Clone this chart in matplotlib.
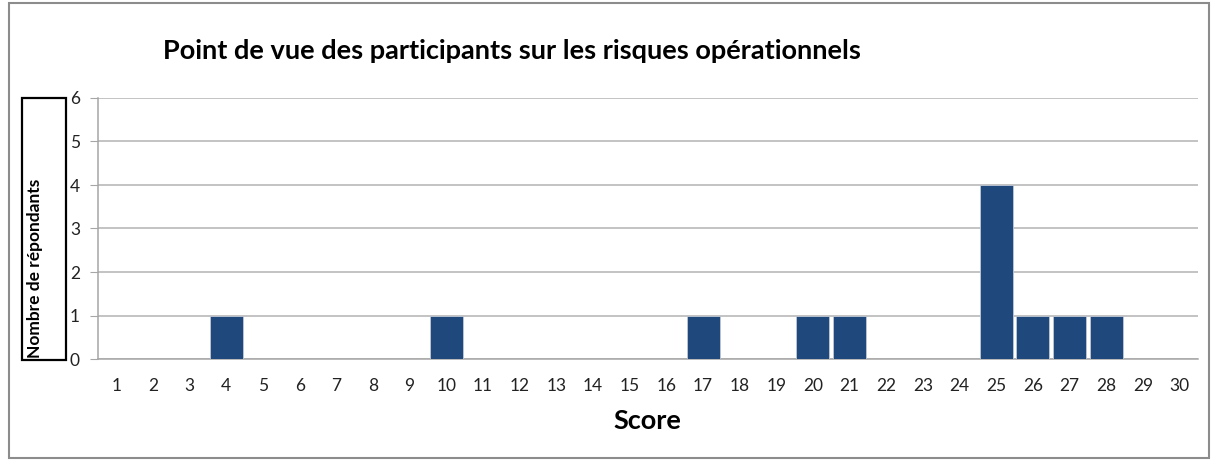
import matplotlib
matplotlib.use("Agg")
import matplotlib.pyplot as plt
from matplotlib.patches import Rectangle

scores = list(range(1, 31))
counts = [0, 0, 0, 1, 0, 0, 0, 0, 0, 1,
          0, 0, 0, 0, 0, 0, 1, 0, 0, 1,
          1, 0, 0, 0, 4, 1, 1, 1, 0, 0]
yticks = [0, 1, 2, 3, 4, 5, 6]
title = "Point de vue des participants sur les risques opérationnels"
xlabel = "Score"
ylabel = "Nombre de répondants"

plt.rcParams['font.family'] = ['Lato', 'DejaVu Sans']

W, H = 1217, 461
fig = plt.figure(figsize=(W / 100, H / 100), dpi=100)
fig.patch.set_facecolor("white")

# outer border
fig.add_artist(Rectangle((9 / W, 3 / H), (1209 - 9) / W, (458 - 3) / H,
                         transform=fig.transFigure, fill=False,
                         edgecolor="#8c8c8c", linewidth=1.5))

ax = fig.add_axes([98 / W, 1 - 359 / H, 1100 / W, (359 - 98) / H])
ax.bar(scores, counts, width=0.9, color="#1f497d", edgecolor="#c0c8d4",
       linewidth=0.6, zorder=3)
ax.set_xlim(0.5, 30.5)
ax.set_ylim(0, 6)
ax.set_yticks(yticks)
ax.set_xticks(scores)
ax.set_xticklabels([str(s) for s in scores])
ax.grid(axis="y", color="#b3b3b3", linewidth=1.1, zorder=0)
for s in ["top", "right"]:
    ax.spines[s].set_visible(False)
ax.spines["left"].set_color("#a6a6a6")
ax.spines["bottom"].set_color("#a6a6a6")
ax.spines["left"].set_linewidth(1.1)
ax.spines["bottom"].set_linewidth(1.1)
ax.tick_params(axis="y", length=6, color="#a6a6a6", pad=7, labelsize=12.5,
               labelcolor="#222222")
ax.tick_params(axis="x", length=0, pad=14, labelsize=12.5, labelcolor="#222222")

fig.text(512 / W, 1 - 51 / H, title, ha="center", va="center",
         fontsize=19.5, fontweight="bold", color="black")
fig.text(647 / W, 1 - 421 / H, xlabel, ha="center", va="center",
         fontsize=19.5, fontweight="bold", color="black")

# y label box
fig.add_artist(Rectangle((22 / W, 1 - 360 / H), (66 - 22) / W, (360 - 98) / H,
                         transform=fig.transFigure, fill=False,
                         edgecolor="black", linewidth=1.6))
fig.text(35 / W, 1 - 358 / H, ylabel, rotation=90, ha="center", va="bottom",
         fontsize=12.5, fontweight="bold", color="black")

fig.savefig("out.png", dpi=100)
